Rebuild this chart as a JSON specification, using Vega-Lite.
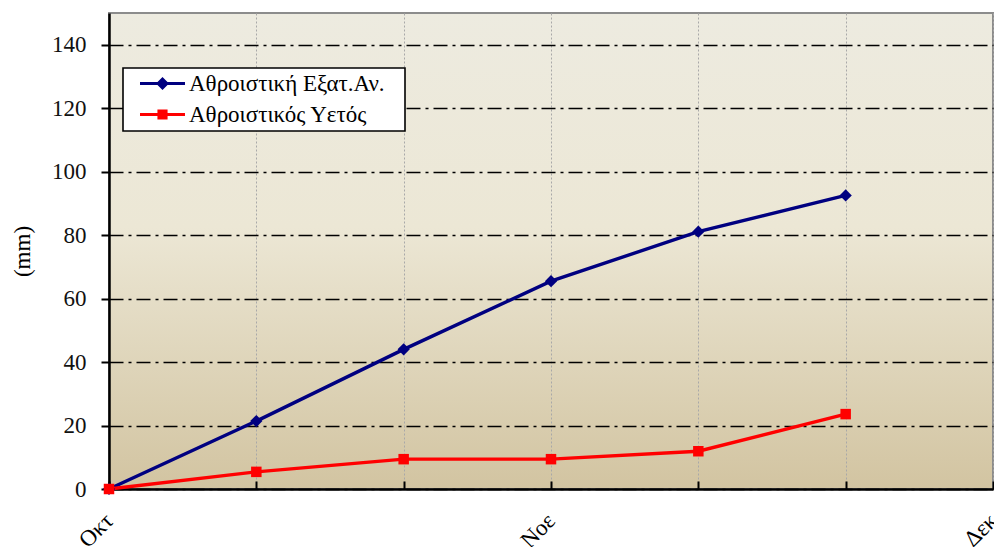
{
  "$schema": "https://vega.github.io/schema/vega-lite/v6.json",
  "width": 884,
  "height": 476,
  "autosize": "none",
  "padding": {"left": 109, "top": 13, "right": 1, "bottom": 58},
  "background": "white",
  "config": {
    "font": "Liberation Serif",
    "view": {
      "stroke": "#8c8c8c",
      "strokeWidth": 2,
      "fill": {
        "gradient": "linear", "x1": 0, "y1": 0, "x2": 0, "y2": 1,
        "stops": [
          {"offset": 0, "color": "#EDEBE0"},
          {"offset": 0.45, "color": "#ECE7D5"},
          {"offset": 1, "color": "#D2C4A1"}
        ]
      }
    }
  },
  "data": {
    "values": [
      {"x": 0, "value": 0, "series": "Αθροιστική Εξατ.Αν."},
      {"x": 1, "value": 21.4, "series": "Αθροιστική Εξατ.Αν."},
      {"x": 2, "value": 44.0, "series": "Αθροιστική Εξατ.Αν."},
      {"x": 3, "value": 65.5, "series": "Αθροιστική Εξατ.Αν."},
      {"x": 4, "value": 81.1, "series": "Αθροιστική Εξατ.Αν."},
      {"x": 5, "value": 92.5, "series": "Αθροιστική Εξατ.Αν."},
      {"x": 0, "value": 0, "series": "Αθροιστικός Υετός"},
      {"x": 1, "value": 5.4, "series": "Αθροιστικός Υετός"},
      {"x": 2, "value": 9.4, "series": "Αθροιστικός Υετός"},
      {"x": 3, "value": 9.4, "series": "Αθροιστικός Υετός"},
      {"x": 4, "value": 11.9, "series": "Αθροιστικός Υετός"},
      {"x": 5, "value": 23.6, "series": "Αθροιστικός Υετός"}
    ]
  },
  "encoding": {
    "x": {
      "field": "x", "type": "quantitative",
      "scale": {"domain": [0, 6], "nice": false, "zero": false},
      "axis": {
        "values": [0, 1, 2, 3, 4, 5, 6],
        "title": null,
        "labelExpr": "datum.value == 0 ? 'Οκτ' : datum.value == 3 ? 'Νοε' : datum.value == 6 ? 'Δεκ' : ''",
        "labelAngle": -45,
        "labelAlign": "right",
        "labelBaseline": "middle",
        "labelFontSize": 23,
        "labelColor": "black",
        "labelPadding": 36,
        "labelFlush": false,
        "labelOverlap": false,
        "domainColor": "black",
        "domainWidth": 2.5,
        "tickColor": "black",
        "tickWidth": 2,
        "tickSize": -8,
        "grid": true,
        "gridColor": "#a8a8a8",
        "gridDash": [2, 2],
        "gridWidth": 1
      }
    },
    "y": {
      "field": "value", "type": "quantitative",
      "scale": {"domain": [0, 150], "nice": false},
      "axis": {
        "values": [0, 20, 40, 60, 80, 100, 120, 140],
        "title": "(mm)",
        "titleFontSize": 23,
        "titleFontWeight": "normal",
        "titleColor": "black",
        "titlePadding": 17,
        "labelFontSize": 23,
        "labelColor": "#111",
        "labelPadding": 15,
        "domainColor": "black",
        "domainWidth": 2.5,
        "tickColor": "black",
        "tickWidth": 2,
        "tickSize": 8,
        "grid": true,
        "gridColor": "black",
        "gridDash": [14, 5, 3, 5],
        "gridWidth": 1.6
      }
    },
    "color": {
      "field": "series", "type": "nominal",
      "scale": {"domain": ["Αθροιστική Εξατ.Αν.", "Αθροιστικός Υετός"], "range": ["#000080", "#FF0000"]},
      "legend": {
        "title": "–",
        "titleOrient": "right",
        "titleAngle": 0,
        "titleFontSize": 23,
        "titleFontWeight": "normal",
        "titleColor": "transparent",
        "titlePadding": 4,
        "orient": "none",
        "legendX": 14,
        "legendY": 55,
        "fillColor": "white",
        "strokeColor": "black",
        "padding": 4,
        "labelFontSize": 23,
        "labelColor": "black",
        "labelLimit": 400,
        "symbolSize": 169,
        "symbolOffset": 24,
        "labelOffset": 15,
        "rowPadding": 7,
        "symbolStrokeWidth": 0,
        "encode": {
          "symbols": {
            "update": {
              "shape": {"signal": "datum.index === 0 ? 'M-3.46,-0.24L3.46,-0.24L3.46,0.24L-3.46,0.24ZM0,-1L1,0L0,1L-1,0Z' : 'M-3.46,-0.24L3.46,-0.24L3.46,0.24L-3.46,0.24ZM-0.78,-0.78L0.78,-0.78L0.78,0.78L-0.78,0.78Z'"},
              "fill": {"scale": "color", "field": "value"},
              "opacity": {"value": 1}
            }
          },
          "legend": {
            "update": {"strokeWidth": {"value": 1.6}}
          }
        }
      }
    }
  },
  "layer": [
    {
      "mark": {"type": "line", "strokeWidth": 3.4}
    },
    {
      "transform": [{"filter": "datum.series === 'Αθροιστική Εξατ.Αν.'"}],
      "mark": {"type": "point", "filled": true, "opacity": 1, "shape": "diamond", "size": 150}
    },
    {
      "transform": [{"filter": "datum.series === 'Αθροιστικός Υετός'"}],
      "mark": {"type": "point", "filled": true, "opacity": 1, "shape": "square", "size": 110}
    }
  ]
}
